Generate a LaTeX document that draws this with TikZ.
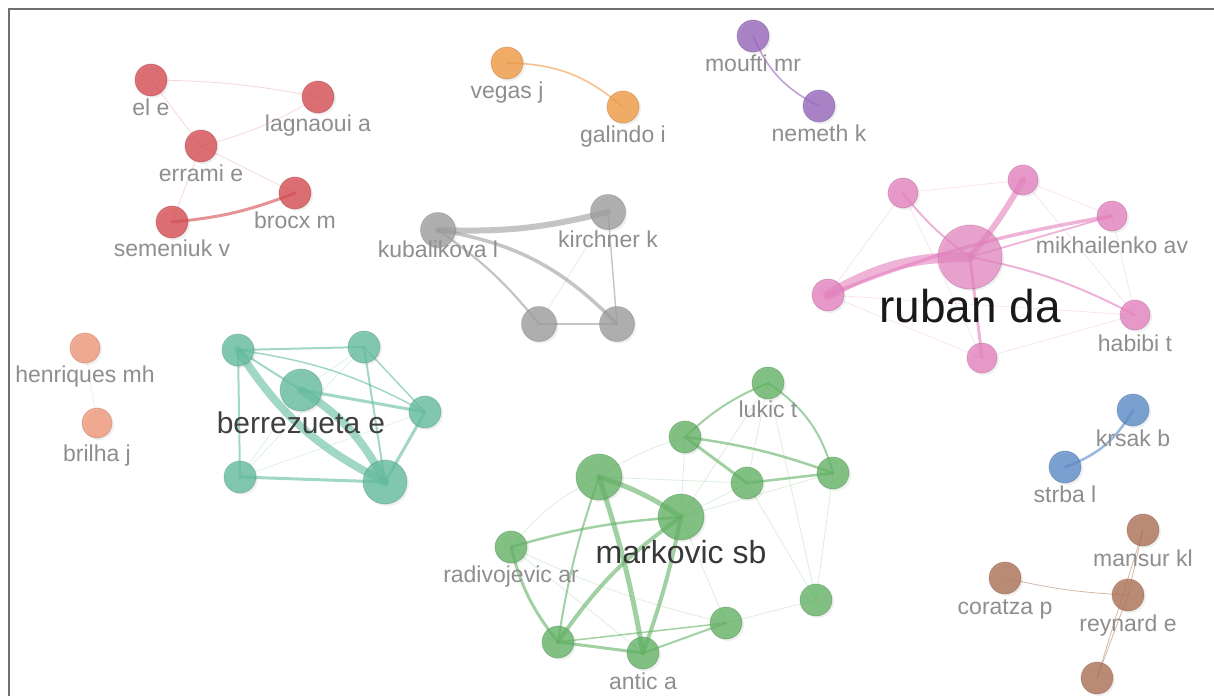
\documentclass[tikz,border=0pt]{standalone}
\usepackage{fontspec}
\setmainfont{Liberation Sans}
\usetikzlibrary{positioning,shadows}

\definecolor{cred}{RGB}{214,74,80}
\definecolor{corange}{RGB}{240,152,64}
\definecolor{cpurple}{RGB}{150,100,188}
\definecolor{cgray}{RGB}{156,156,156}
\definecolor{cpink}{RGB}{228,128,190}
\definecolor{cteal}{RGB}{98,188,158}
\definecolor{cgreen}{RGB}{98,178,100}
\definecolor{cblue}{RGB}{88,138,198}
\definecolor{cbrown}{RGB}{172,112,82}
\definecolor{csalmon}{RGB}{238,150,118}
\definecolor{labgray}{RGB}{142,142,142}
\definecolor{framegray}{RGB}{112,112,112}

\pgfdeclarelayer{edges}
\pgfsetlayers{edges,main}

\begin{document}
\begin{tikzpicture}[
  x=1pt, y=-1pt,
  au/.style={circle, inner sep=0pt, minimum size=32pt, fill=#1, fill opacity=0.78, draw=#1!70!black, draw opacity=0.35, line width=0.8pt,
    drop shadow={opacity=0.12, shadow xshift=2pt, shadow yshift=-2pt}},
  lab/.style={font=\fontsize{23}{23}\selectfont, text=labgray, inner sep=0pt, text height=16.5pt, text depth=5pt},
  hub/.style={lab, text=#1},
  tie/.style={draw=#1, draw opacity=0.6, line cap=round},
  faint/.style={draw=#1, draw opacity=0.22, line width=0.8pt}
]
\useasboundingbox (0,0) rectangle (1214,696);
\draw[line width=2pt, framegray] (9,696) -- (9,9) -- (1214,9);

% red cluster
\node[au=cred] (ele) at (151,80) {};
\node[au=cred] (lagnaoui) at (318,97) {};
\node[au=cred] (errami) at (201,146) {};
\node[au=cred] (brocx) at (295,193) {};
\node[au=cred] (semeniuk) at (172,222) {};
% orange and purple pairs
\node[au=corange] (vegas) at (507,63) {};
\node[au=corange] (galindo) at (623,107) {};
\node[au=cpurple] (moufti) at (753,36) {};
\node[au=cpurple] (nemeth) at (819,106) {};
% gray cluster
\node[au=cgray, minimum size=35pt] (kubalikova) at (438,230) {};
\node[au=cgray, minimum size=35pt] (kirchner) at (608,212) {};
\node[au=cgray, minimum size=35pt] (gbl) at (539,324) {};
\node[au=cgray, minimum size=35pt] (gbr) at (617,324) {};
% pink cluster
\node[au=cpink, minimum size=64pt, fill opacity=0.7] (ruban) at (970,257) {};
\node[au=cpink, minimum size=30pt] (pone) at (903,193) {};
\node[au=cpink, minimum size=30pt] (ptwo) at (1023,180) {};
\node[au=cpink, minimum size=30pt] (mikhailenko) at (1112,216) {};
\node[au=cpink] (pleft) at (828,295) {};
\node[au=cpink, minimum size=30pt] (habibi) at (1135,315) {};
\node[au=cpink, minimum size=30pt] (pbot) at (982,358) {};
% teal cluster
\node[au=cteal] (ttl) at (238,350) {};
\node[au=cteal] (ttr) at (364,347) {};
\node[au=cteal, minimum size=42pt] (berrezueta) at (301,390) {};
\node[au=cteal] (trt) at (425,412) {};
\node[au=cteal] (tbl) at (240,477) {};
\node[au=cteal, minimum size=44pt] (tbr) at (385,482) {};
% green cluster
\node[au=cgreen] (lukic) at (768,383) {};
\node[au=cgreen] (gtwo) at (685,437) {};
\node[au=cgreen, minimum size=46pt] (gthree) at (599,477) {};
\node[au=cgreen] (gfour) at (747,483) {};
\node[au=cgreen] (gfive) at (833,473) {};
\node[au=cgreen, minimum size=46pt] (markovic) at (681,517) {};
\node[au=cgreen] (radivojevic) at (511,547) {};
\node[au=cgreen] (geight) at (816,600) {};
\node[au=cgreen] (gnine) at (726,623) {};
\node[au=cgreen] (gten) at (558,642) {};
\node[au=cgreen] (antic) at (643,653) {};
% blue, brown and salmon groups
\node[au=cblue] (krsak) at (1133,410) {};
\node[au=cblue] (strba) at (1065,467) {};
\node[au=cbrown] (mansur) at (1143,530) {};
\node[au=cbrown] (coratza) at (1005,578) {};
\node[au=cbrown] (reynard) at (1128,595) {};
\node[au=cbrown] (bbot) at (1097,678) {};
\node[au=csalmon, minimum size=30pt] (henriques) at (85,348) {};
\node[au=csalmon, minimum size=30pt] (brilha) at (97,423) {};

% labels
\node[lab, below=2pt of ele] (ele-t) {el e};
\node[lab, below=1pt of lagnaoui] (lagnaoui-t) {lagnaoui a};
\node[lab, below=2pt of errami] (errami-t) {errami e};
\node[lab, below=2pt of brocx] (brocx-t) {brocx m};
\node[lab, below=1pt of semeniuk] (semeniuk-t) {semeniuk v};
\node[lab, below=2pt of vegas] (vegas-t) {vegas j};
\node[lab, below=2pt of galindo] (galindo-t) {galindo i};
\node[lab, below=2pt of moufti] (moufti-t) {moufti mr};
\node[lab, below=2pt of nemeth] (nemeth-t) {nemeth k};
\node[lab, below=-7pt of kubalikova] (kubalikova-t) {kubalikova l};
\node[lab, below=1pt of kirchner] (kirchner-t) {kirchner k};
\node[lab, below=5pt of mikhailenko] (mikhailenko-t) {mikhailenko av};
\node[lab, below=4pt of habibi] (habibi-t) {habibi t};
\node[lab, below=1pt of lukic] (lukic-t) {lukic t};
\node[lab, below=2pt of radivojevic] (radivojevic-t) {radivojevic ar};
\node[lab, below=3pt of antic] (antic-t) {antic a};
\node[lab, below=3pt of krsak] (krsak-t) {krsak b};
\node[lab, below=2pt of strba] (strba-t) {strba l};
\node[lab, below=3pt of mansur] (mansur-t) {mansur kl};
\node[lab, below=3pt of coratza] (coratza-t) {coratza p};
\node[lab, below=3pt of reynard] (reynard-t) {reynard e};
\node[lab, below=2pt of henriques] (henriques-t) {henriques mh};
\node[lab, below=6pt of brilha] (brilha-t) {brilha j};
\node[hub={black!90}, font=\fontsize{46}{46}\selectfont, text height=33pt, text depth=10pt, below=0pt of ruban] (ruban-t) {ruban da};
\node[hub={black!78}, font=\fontsize{32}{32}\selectfont, text height=23pt, text depth=7pt, below=0pt of markovic] (markovic-t) {markovic sb};
\node[hub={black!75}, font=\fontsize{30}{30}\selectfont, text height=21.5pt, text depth=6.5pt, below=0pt of berrezueta] (berrezueta-t) {berrezueta e};

\begin{pgfonlayer}{edges}
% red
\draw[faint=cred] (ele.center) to[bend left=5] (lagnaoui.center);
\draw[faint=cred] (ele.center) -- (errami.center);
\draw[faint=cred] (errami.center) to[bend right=8] (lagnaoui.center);
\draw[faint=cred] (errami.center) -- (brocx.center);
\draw[faint=cred] (errami.center) -- (semeniuk.center);
\draw[tie=cred, line width=3pt] (semeniuk.center) to[bend right=8] (brocx.center);
% orange, purple
\draw[tie=corange, line width=1.6pt] (vegas.center) to[bend left=20] (galindo.center);
\draw[tie=cpurple, line width=1.6pt] (moufti.center) to[bend right=20] (nemeth.center);
% gray
\draw[tie=cgray, line width=6pt] (kubalikova.center) to[bend right=8] (kirchner.center);
\draw[tie=cgray, line width=3.5pt] (kubalikova.center) to[bend left=18] (gbr.center);
\draw[tie=cgray, line width=2.2pt] (kubalikova.center) to[bend left=8] (gbl.center);
\draw[tie=cgray, line width=1.4pt] (kirchner.center) -- (gbr.center);
\draw[faint=cgray] (kirchner.center) -- (gbl.center);
\draw[tie=cgray, line width=1.4pt] (gbl.center) -- (gbr.center);
% pink
\draw[tie=cpink, line width=10pt] (pleft.center) to[bend left=15] (ruban.center);
\draw[tie=cpink, line width=6pt] (ruban.center) to[bend right=5] (ptwo.center);
\draw[tie=cpink, line width=3.5pt] (pleft.center) to[bend left=6] (mikhailenko.center);
\draw[tie=cpink, line width=1.8pt] (ruban.center) -- (mikhailenko.center);
\draw[tie=cpink, line width=2pt] (ruban.center) to[bend left=8] (pone.center);
\draw[tie=cpink, line width=2pt] (ruban.center) to[bend left=8] (habibi.center);
\draw[tie=cpink, line width=3pt] (ruban.center) -- (pbot.center);
\draw[faint=cpink] (pleft.center) -- (habibi.center);
\draw[faint=cpink] (pleft.center) -- (pbot.center);
\draw[faint=cpink] (pleft.center) -- (pone.center);
\draw[faint=cpink] (pone.center) -- (ptwo.center);
\draw[faint=cpink] (pone.center) -- (pbot.center);
\draw[faint=cpink] (ptwo.center) -- (mikhailenko.center);
\draw[faint=cpink] (ptwo.center) -- (habibi.center);
\draw[faint=cpink] (mikhailenko.center) -- (habibi.center);
\draw[faint=cpink] (pbot.center) -- (habibi.center);
% teal
\draw[tie=cteal, line width=8pt] (ttl.center) to[bend right=15] (tbr.center);
\draw[tie=cteal, line width=8pt] (berrezueta.center) to[bend left=15] (tbr.center);
\draw[tie=cteal, line width=2pt] (ttl.center) -- (ttr.center);
\draw[tie=cteal, line width=2pt] (ttl.center) -- (tbl.center);
\draw[tie=cteal, line width=3pt] (tbl.center) -- (tbr.center);
\draw[tie=cteal, line width=3pt] (tbr.center) -- (trt.center);
\draw[tie=cteal, line width=3pt] (berrezueta.center) -- (trt.center);
\draw[tie=cteal, line width=1.5pt] (ttl.center) to[bend left=10] (trt.center);
\draw[tie=cteal, line width=2pt] (ttr.center) -- (tbr.center);
\draw[tie=cteal, line width=1.5pt] (ttr.center) -- (trt.center);
\draw[tie=cteal, line width=2pt] (ttl.center) -- (berrezueta.center);
\draw[faint=cteal] (berrezueta.center) -- (ttr.center);
\draw[faint=cteal] (tbl.center) -- (ttr.center);
\draw[faint=cteal] (tbl.center) -- (trt.center);
\draw[faint=cteal] (tbl.center) -- (berrezueta.center);
% green
\draw[tie=cgreen, line width=5pt] (gthree.center) to[bend left=8] (markovic.center);
\draw[tie=cgreen, line width=5pt] (gthree.center) to[bend left=4] (antic.center);
\draw[tie=cgreen, line width=4pt] (markovic.center) to[bend right=10] (gten.center);
\draw[tie=cgreen, line width=4pt] (markovic.center) to[bend left=4] (antic.center);
\draw[tie=cgreen, line width=3pt] (gtwo.center) -- (gfour.center);
\draw[tie=cgreen, line width=2.5pt] (gtwo.center) to[bend left=6] (gfive.center);
\draw[tie=cgreen, line width=2.5pt] (gfour.center) -- (gfive.center);
\draw[tie=cgreen, line width=2pt] (lukic.center) to[bend right=10] (gtwo.center);
\draw[tie=cgreen, line width=2pt] (lukic.center) to[bend left=20] (gfive.center);
\draw[tie=cgreen, line width=2.5pt] (radivojevic.center) to[bend left=6] (markovic.center);
\draw[tie=cgreen, line width=3pt] (radivojevic.center) to[bend right=12] (gten.center);
\draw[tie=cgreen, line width=3pt] (gten.center) -- (antic.center);
\draw[tie=cgreen, line width=2pt] (gthree.center) to[bend right=5] (gten.center);
\draw[tie=cgreen, line width=2pt] (antic.center) -- (gnine.center);
\draw[tie=cgreen, line width=1.5pt] (gten.center) -- (gnine.center);
\draw[faint=cgreen] (gnine.center) -- (geight.center);
\draw[faint=cgreen] (radivojevic.center) to[bend right=6] (gnine.center);
\draw[faint=cgreen] (radivojevic.center) -- (antic.center);
\draw[faint=cgreen] (radivojevic.center) to[bend left=12] (gthree.center);
\draw[faint=cgreen] (gthree.center) to[bend left=8] (gtwo.center);
\draw[faint=cgreen] (gtwo.center) -- (markovic.center);
\draw[faint=cgreen] (markovic.center) -- (gfour.center);
\draw[faint=cgreen] (markovic.center) -- (gfive.center);
\draw[faint=cgreen] (markovic.center) -- (gnine.center);
\draw[faint=cgreen] (markovic.center) -- (lukic.center);
\draw[faint=cgreen] (gthree.center) -- (gfour.center);
\draw[faint=cgreen] (lukic.center) -- (gfour.center);
\draw[faint=cgreen] (lukic.center) -- (geight.center);
\draw[faint=cgreen] (gfive.center) -- (geight.center);
\draw[faint=cgreen] (gfour.center) -- (geight.center);
% blue, brown, salmon
\draw[tie=cblue, line width=2.5pt] (strba.center) to[bend right=20] (krsak.center);
\draw[faint=cbrown, draw opacity=0.5] (coratza.center) to[bend right=5] (reynard.center);
\draw[faint=cbrown, draw opacity=0.5] (reynard.center) -- (bbot.center);
\draw[faint=cbrown, draw opacity=0.5] (mansur.center) -- (bbot.center);
\draw[faint=cbrown, draw opacity=0.5] (mansur.center) -- (reynard.center);
\draw[faint=csalmon] (henriques.center) -- (brilha.center);
\end{pgfonlayer}
\end{tikzpicture}
\end{document}
